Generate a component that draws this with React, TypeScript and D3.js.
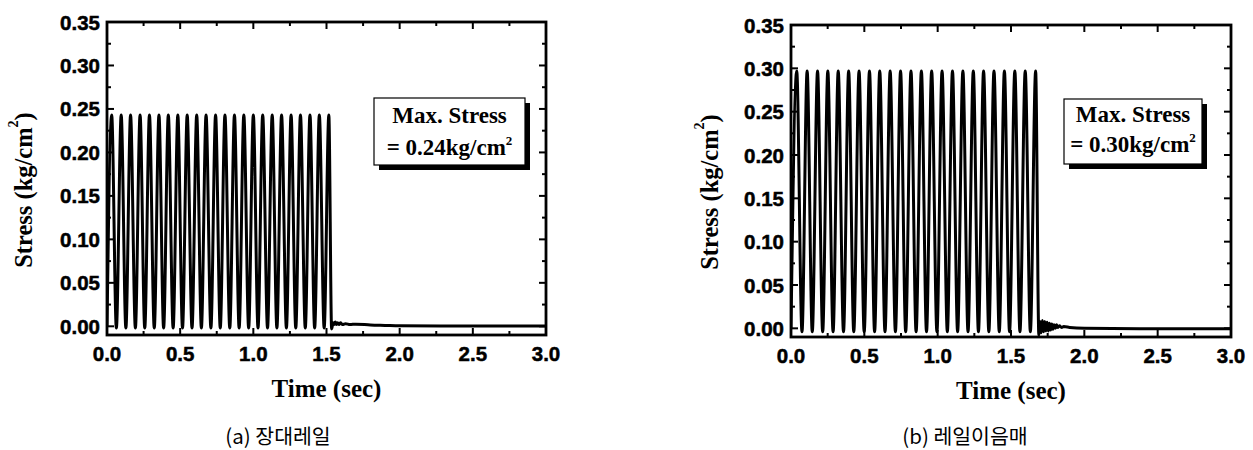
import React from "react";
import * as d3 from "d3";

// axis ticks
const xMajor = [0, 0.5, 1.0, 1.5, 2.0, 2.5, 3.0];
const xMinor = [0.25, 0.75, 1.25, 1.75, 2.25, 2.75];
const yMajor = [0, 0.05, 0.1, 0.15, 0.2, 0.25, 0.3, 0.35];
const yMinor = [0.025, 0.075, 0.125, 0.175, 0.225, 0.275, 0.325];

// (a) long rail
const peakTimesA = [
  0.032, 0.097, 0.161, 0.226, 0.29, 0.355, 0.419, 0.484, 0.548, 0.613, 0.677, 0.742,
  0.806, 0.871, 0.935, 1.0, 1.064, 1.129, 1.193, 1.258, 1.322, 1.387, 1.451, 1.516,
];
const troughTimesA = [
  0.064, 0.129, 0.194, 0.258, 0.323, 0.387, 0.452, 0.516, 0.581, 0.645, 0.71, 0.774,
  0.839, 0.903, 0.968, 1.032, 1.097, 1.161, 1.226, 1.29, 1.355, 1.419, 1.484,
];
const peakA = 0.243;
const troughA = -0.002;
const tailA: [number, number][] = [
  [0, 0], [1.535, -0.003], [1.545, 0.004], [1.552, 0.002], [1.56, 0.005], [1.568, 0.002],
  [1.576, 0.004], [1.585, 0.002], [1.595, 0.004], [1.61, 0.002], [1.63, 0.003], [1.66, 0.002],
  [1.7, 0.0025], [1.8, 0.0015], [1.9, 0.001], [2.0, 0.0005], [2.5, 0.0003], [3.0, 0.0003],
];

// (b) rail joint
const peakTimesB = [
  0.039, 0.11, 0.181, 0.251, 0.322, 0.393, 0.464, 0.535, 0.605, 0.676, 0.747, 0.818,
  0.889, 0.959, 1.03, 1.101, 1.172, 1.243, 1.313, 1.384, 1.455, 1.526, 1.597, 1.668,
];
const troughTimesB = [
  0.075, 0.145, 0.216, 0.287, 0.358, 0.428, 0.499, 0.57, 0.641, 0.712, 0.782, 0.853,
  0.924, 0.995, 1.066, 1.136, 1.207, 1.278, 1.349, 1.42, 1.49, 1.561, 1.632,
];
const peakB = 0.297;
const troughB = -0.004;
const tailB: [number, number][] = [
  [0, 0], [1.69, -0.008], [1.698, 0.008], [1.706, -0.005], [1.714, 0.009], [1.722, -0.004],
  [1.73, 0.008], [1.738, -0.003], [1.746, 0.007], [1.754, -0.003], [1.762, 0.006], [1.77, -0.002],
  [1.778, 0.005], [1.786, -0.001], [1.794, 0.004], [1.802, 0.0], [1.81, 0.004], [1.82, 0.001],
  [1.83, 0.003], [1.845, 0.001], [1.86, 0.002], [1.9, 0.001], [2.0, 0.0], [2.5, -0.0005], [3.0, -0.0005],
];

const maxStress = ["0.24", "0.30"];
const captions = ["(a) 장대레일", "(b) 레일이음매"];

function buildSeries(peaks: number[], peak: number, troughs: number[], trough: number, tail: [number, number][]) {
  const pts: [number, number][] = [
    ...peaks.map((t) => [t, peak] as [number, number]),
    ...troughs.map((t) => [t, trough] as [number, number]),
    ...tail,
  ];
  return pts.sort((a, b) => a[0] - b[0]);
}

const serif = "'Liberation Serif', 'Times New Roman', serif";
const sans = "'Liberation Sans', Arial, sans-serif";

type PanelProps = {
  id: string;
  left: number;
  right: number;
  top: number;
  bottom: number;
  data: [number, number][];
  maxText: string;
  box: { x: number; y: number; w: number; h: number; b1: number; b2: number };
  yTitleX: number;
  yTitleY: number;
  caption: string;
  captionX: number;
};

function Panel(p: PanelProps) {
  const x = d3.scaleLinear().domain([0, 3]).range([p.left, p.right]);
  const y = d3.scaleLinear().domain([-0.01, 0.35]).range([p.bottom, p.top]);
  const line = d3
    .line<[number, number]>()
    .x((d) => x(d[0]))
    .y((d) => y(d[1]))
    .curve(d3.curveMonotoneX);
  const fx = d3.format(".1f");
  const fy = d3.format(".2f");
  const maj = 7;
  const min = 4;
  const cx = p.box.x + p.box.w / 2;
  return (
    <g>
      <defs>
        <clipPath id={`clip-${p.id}`}>
          <rect x={p.left} y={p.top} width={p.right - p.left} height={p.bottom - p.top} />
        </clipPath>
      </defs>
      <path d={line(p.data) ?? ""} fill="none" stroke="#000" strokeWidth={3} clipPath={`url(#clip-${p.id})`} />
      {/* ticks */}
      <g stroke="#000" strokeWidth={2}>
        {xMajor.map((t) => (
          <g key={`xm${t}`}>
            <line x1={x(t)} x2={x(t)} y1={p.bottom} y2={p.bottom - maj} />
            <line x1={x(t)} x2={x(t)} y1={p.top} y2={p.top + maj} />
          </g>
        ))}
        {xMinor.map((t) => (
          <g key={`xn${t}`}>
            <line x1={x(t)} x2={x(t)} y1={p.bottom} y2={p.bottom - min} />
            <line x1={x(t)} x2={x(t)} y1={p.top} y2={p.top + min} />
          </g>
        ))}
        {yMajor.map((t) => (
          <g key={`ym${t}`}>
            <line x1={p.left} x2={p.left + maj} y1={y(t)} y2={y(t)} />
            <line x1={p.right} x2={p.right - maj} y1={y(t)} y2={y(t)} />
          </g>
        ))}
        {yMinor.map((t) => (
          <g key={`yn${t}`}>
            <line x1={p.left} x2={p.left + min} y1={y(t)} y2={y(t)} />
            <line x1={p.right} x2={p.right - min} y1={y(t)} y2={y(t)} />
          </g>
        ))}
      </g>
      <rect x={p.left} y={p.top} width={p.right - p.left} height={p.bottom - p.top} fill="none" stroke="#000" strokeWidth={2.8} />
      {/* tick labels */}
      <g fontFamily={sans} fontWeight="bold" fontSize={20.5} fill="#000" stroke="#000" strokeWidth={0.5}>
        {xMajor.map((t) => (
          <text key={`xl${t}`} x={x(t)} y={p.bottom + 26} textAnchor="middle">
            {fx(t)}
          </text>
        ))}
        {yMajor.map((t) => (
          <text key={`yl${t}`} x={p.left - 7} y={y(t) + 7.5} textAnchor="end">
            {fy(t)}
          </text>
        ))}
      </g>
      {/* axis titles */}
      <text
        x={(p.left + p.right) / 2}
        y={p.bottom + 62}
        textAnchor="middle"
        fontFamily={serif}
        fontWeight="bold"
        fontSize={25}
      >
        Time (sec)
      </text>
      <text
        transform={`translate(${p.yTitleX},${p.yTitleY}) rotate(-90)`}
        textAnchor="middle"
        dominantBaseline="central"
        fontFamily={serif}
        fontWeight="bold"
        fontSize={24.5}
      >
        Stress (kg/cm
        <tspan fontSize={14} dy={-10}>
          2
        </tspan>
        <tspan dy={10}>)</tspan>
      </text>
      {/* max stress box */}
      <rect x={p.box.x + 5} y={p.box.y + 5} width={p.box.w} height={p.box.h} fill="#000" />
      <rect x={p.box.x} y={p.box.y} width={p.box.w} height={p.box.h} fill="#fff" stroke="#000" strokeWidth={1.2} />
      <g fontFamily={serif} fontWeight="bold" fontSize={23} textAnchor="middle">
        <text x={cx} y={p.box.b1}>Max. Stress</text>
        <text x={cx} y={p.box.b2}>
          = {p.maxText}kg/cm
          <tspan fontSize={13} dy={-10}>
            2
          </tspan>
        </text>
      </g>
      <text x={p.captionX} y={444} textAnchor="middle" fontFamily="'Noto Sans CJK KR', sans-serif" fontSize={20.5}>
        {p.caption}
      </text>
    </g>
  );
}

export default function App() {
  const dataA = buildSeries(peakTimesA, peakA, troughTimesA, troughA, tailA);
  const dataB = buildSeries(peakTimesB, peakB, troughTimesB, troughB, tailB);
  return (
    <svg width={1253} height={450} style={{ position: "absolute", left: 0, top: 0, background: "#fff" }}>
      <Panel
        id="a"
        left={107}
        right={546}
        top={22}
        bottom={335}
        data={dataA}
        maxText={maxStress[0]}
        box={{ x: 374, y: 98, w: 151, h: 67, b1: 123, b2: 155 }}
        yTitleX={23}
        yTitleY={190}
        caption={captions[0]}
        captionX={278}
      />
      <Panel
        id="b"
        left={791}
        right={1231}
        top={25}
        bottom={337}
        data={dataB}
        maxText={maxStress[1]}
        box={{ x: 1064, y: 99, w: 138, h: 65, b1: 122, b2: 152 }}
        yTitleX={709}
        yTitleY={192}
        caption={captions[1]}
        captionX={965}
      />
    </svg>
  );
}
